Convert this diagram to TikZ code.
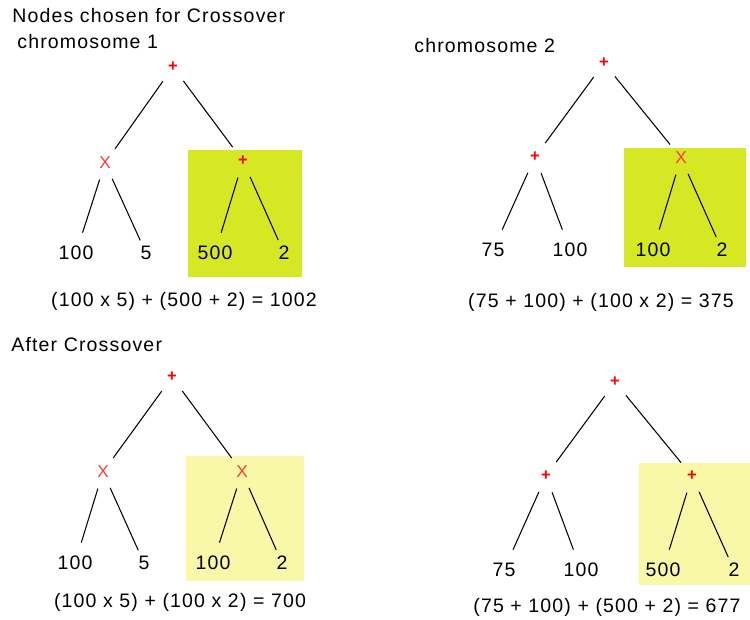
\documentclass[tikz,border=0pt]{standalone}
\usepackage{fontspec}
\setmainfont{Liberation Sans}[LetterSpace=6]
\usetikzlibrary{positioning}
\definecolor{selA}{HTML}{D6E824}
\definecolor{selB}{HTML}{F8F8A8}
\definecolor{redx}{HTML}{FF3B3B}

\begin{document}
\begin{tikzpicture}[x=0.02cm,y=-0.02cm, op/.style={circle,inner sep=0pt,minimum size=0.68cm,text=red,font=\fontsize{9.4}{10}\selectfont\bfseries}, opx/.style={op,text=redx,font=\fontsize{9.8}{11}\selectfont}, lf/.style={rectangle,inner sep=0pt,minimum height=0.8cm,font=\fontsize{11.1}{13}\selectfont}, ttl/.style={anchor=base west,inner sep=0pt,font=\fontsize{11.1}{13}\selectfont}, eq/.style={anchor=base,inner sep=0pt,font=\fontsize{11.1}{13}\selectfont}, ln/.style={line width=0.6pt}]
  \useasboundingbox (0,0) rectangle (750,619);
  % chosen subtrees
  \fill[selA] (188,150) rectangle (302,277);
  \fill[selA] (624,148) rectangle (746,267);
  \fill[selB] (186,456) rectangle (304,581);
  \fill[selB] (639,463) rectangle (750,585);
  % chromosome 1
  \node[ttl](t0) at (12,22){Nodes chosen for Crossover};
  \node[ttl](t1) at (17,48){chromosome 1};
  \node[op](r1) at (173,67){+};
  \node[opx](m1a) at (105,163){X};
  \node[op](m1b) at (243,161){+};
  \node[lf](l1a) at (76,253){100};
  \node[lf](l1b) at (146,253){5};
  \node[lf](l1c) at (215,253){500};
  \node[lf](l1d) at (284,253){2};
  \node[eq](e1) at (184,306){(100 x 5) + (500 + 2) = 1002};
  % chromosome 2
  \node[ttl](t2) at (414,52){chromosome 2};
  \node[op](r2) at (604,63){+};
  \node[op](m2a) at (535,157){+};
  \node[opx](m2b) at (681,158){X};
  \node[lf](l2a) at (493,250){75};
  \node[lf](l2b) at (570,250){100};
  \node[lf](l2c) at (653,250){100};
  \node[lf](l2d) at (722,250){2};
  \node[eq](e2) at (601,307){(75 + 100) + (100 x 2) = 375};
  % after crossover, child 1
  \node[ttl](t3) at (11,351){After Crossover};
  \node[op](r3) at (172,377){+};
  \node[opx](m3a) at (103,472){X};
  \node[opx](m3b) at (242,472){X};
  \node[lf](l3a) at (75,563){100};
  \node[lf](l3b) at (144,563){5};
  \node[lf](l3c) at (213,563){100};
  \node[lf](l3d) at (282,563){2};
  \node[eq](e3) at (180,607){(100 x 5) + (100 x 2) = 700};
  % after crossover, child 2
  \node[op](r4) at (615,382){+};
  \node[op](m4a) at (546,476){+};
  \node[op](m4b) at (692,476){+};
  \node[lf](l4a) at (504,570){75};
  \node[lf](l4b) at (581,570){100};
  \node[lf](l4c) at (663,570){500};
  \node[lf](l4d) at (734,570){2};
  \node[eq](e4) at (607,612){(75 + 100) + (500 + 2) = 677};
  \foreach \k in {1,2,3,4}{
    \foreach \x/\y in {r/m\k a,r/m\k b}{\draw[ln](\x\k)--(\y);}
    \foreach \x/\y in {m\k a/l\k a,m\k a/l\k b,m\k b/l\k c,m\k b/l\k d}{\draw[ln](\x)--(\y);}
  }
\end{tikzpicture}
\end{document}
